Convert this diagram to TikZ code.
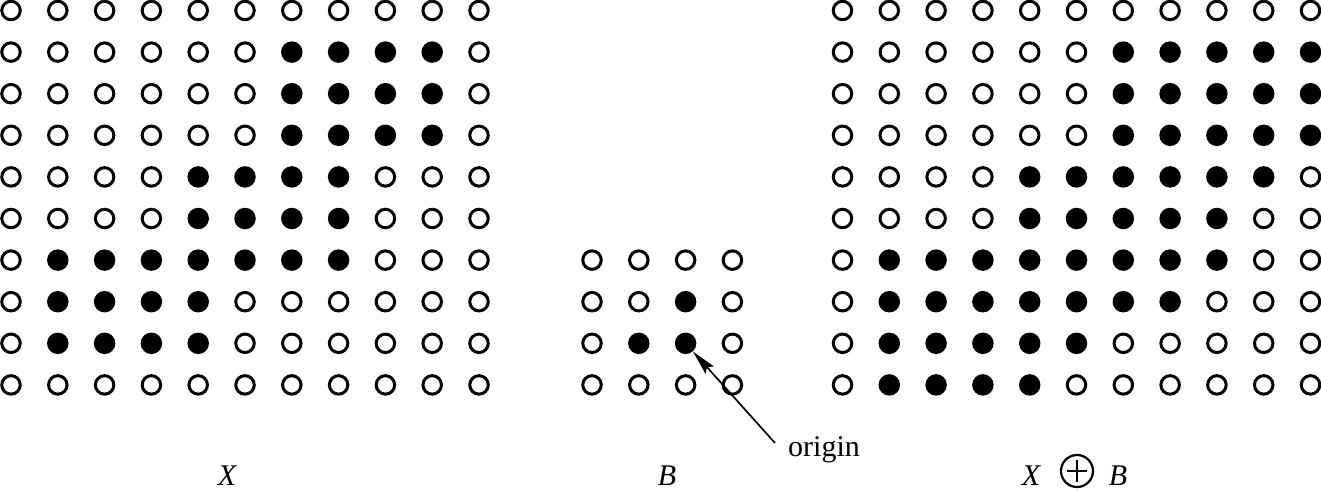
\documentclass[tikz,border=0pt]{standalone}
\usepackage{fontspec}
\setmainfont{Liberation Serif}
\usetikzlibrary{arrows.meta}
\begin{document}
\begin{tikzpicture}[x=1pt,y=-1pt,
  opendot/.style={circle,draw=black,line width=3pt,minimum size=18.5pt,inner sep=0pt},
  filldot/.style={circle,fill=black,minimum size=21.5pt,inner sep=0pt},
  lbl/.style={inner sep=0pt,font=\fontsize{30}{36}\selectfont},
  arr/.style={line width=1.7pt,-{Stealth[length=25pt,width=11pt,inset=4pt]}}]
\useasboundingbox (0,0) rectangle (1321,491);
% grid X
\foreach \r/\a/\b in {0/99/0,1/7/10,2/7/10,3/7/10,4/5/8,5/5/8,6/2/8,7/2/5,8/2/5,9/99/0}{
  \foreach \c in {1,...,11}{
    \pgfmathtruncatemacro\f{(\c>=\a)&&(\c<=\b)}
    \ifnum\f=1
      \node[filldot] (x-\c-\r) at ({11+46.8*(\c-1)},{10.5+41.6*\r}) {};
    \else
      \node[opendot] (x-\c-\r) at ({11+46.8*(\c-1)},{10.5+41.6*\r}) {};
    \fi
  }
}
% grid B
\foreach \r/\a/\b in {6/99/0,7/3/3,8/2/3,9/99/0}{
  \foreach \c in {1,...,4}{
    \pgfmathtruncatemacro\f{(\c>=\a)&&(\c<=\b)}
    \ifnum\f=1
      \node[filldot] (b-\c-\r) at ({592+46.8*(\c-1)},{10.5+41.6*\r}) {};
    \else
      \node[opendot] (b-\c-\r) at ({592+46.8*(\c-1)},{10.5+41.6*\r}) {};
    \fi
  }
}
% grid X (+) B
\foreach \r/\a/\b in {0/99/0,1/7/11,2/7/11,3/7/11,4/5/10,5/5/9,6/2/9,7/2/8,8/2/6,9/2/5}{
  \foreach \c in {1,...,11}{
    \pgfmathtruncatemacro\f{(\c>=\a)&&(\c<=\b)}
    \ifnum\f=1
      \node[filldot] (d-\c-\r) at ({842.5+46.8*(\c-1)},{10.5+41.6*\r}) {};
    \else
      \node[opendot] (d-\c-\r) at ({842.5+46.8*(\c-1)},{10.5+41.6*\r}) {};
    \fi
  }
}
% labels
\node[lbl,anchor=base] (lx) at (227,485) {\itshape X};
\node[lbl,anchor=base] (lb) at (667,485) {\itshape B};
\node[lbl,anchor=base] (lx2) at (1031,485) {\itshape X};
\node[circle,draw=black,line width=2.2pt,minimum size=32pt,inner sep=0pt] (op) at (1077,471) {};
\draw[line width=1.5pt] ([xshift=-10pt]op.center) -- ([xshift=10pt]op.center);
\draw[line width=1.5pt] ([yshift=-11pt]op.center) -- ([yshift=11pt]op.center);
\node[lbl,anchor=base] (lb2) at (1118,485) {\itshape B};
\node[lbl,anchor=base west] (orig) at (788,456) {origin};
\draw[arr] ([xshift=-13pt,yshift=13pt]orig.base west) -- (b-3-8);
\end{tikzpicture}
\end{document}
